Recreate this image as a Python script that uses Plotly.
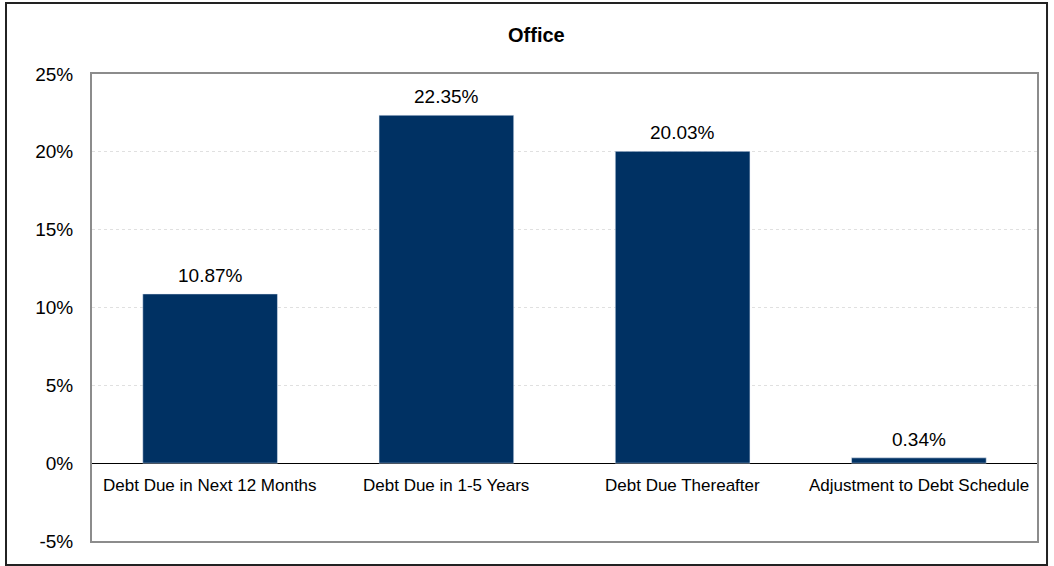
import plotly.graph_objects as go

categories = ["Debt Due in Next 12 Months", "Debt Due in 1-5 Years", "Debt Due Thereafter", "Adjustment to Debt Schedule"]
values = [10.87, 22.35, 20.03, 0.34]
tick_vals = [-5, 0, 5, 10, 15, 20, 25]
tick_text = ["-5%", "0%", "5%", "10%", "15%", "20%", "25%"]
title_text = "Office"

BAR = "#003163"
FONT = "Liberation Sans, Arial, sans-serif"

fig = go.Figure()
fig.add_trace(go.Bar(x=categories, y=values, marker_color=BAR, width=0.57, hoverinfo="skip"))

annotations = []
for c, v in zip(categories, values):
    annotations.append(dict(x=c, y=v, xref="x", yref="y", text=f"{v:.2f}%", showarrow=False,
                            yanchor="bottom", yshift=6, font=dict(family=FONT, size=19, color="#000")))
    annotations.append(dict(x=c, y=0, xref="x", yref="y", text=c, showarrow=False,
                            yanchor="middle", yshift=-22, font=dict(family=FONT, size=17, color="#000")))
annotations.append(dict(x=0.47, y=1.083, xref="paper", yref="paper", text=f"<b>{title_text}</b>",
                        showarrow=False, yanchor="middle", font=dict(family=FONT, size=20, color="#000")))

fig.update_layout(
    width=1054, height=566,
    margin=dict(l=92, r=17, t=74, b=25),
    paper_bgcolor="white", plot_bgcolor="white",
    showlegend=False,
    bargap=0.43,
    annotations=annotations,
    font=dict(family=FONT, size=19, color="#000"),
    shapes=[dict(type="rect", xref="paper", yref="paper", x0=-0.091, x1=1.0106, y0=-0.0514, y1=1.152,
                 line=dict(color="#222", width=2), fillcolor="rgba(0,0,0,0)", layer="above")],
)
fig.update_xaxes(showticklabels=False, showgrid=False, showline=True, mirror=True,
                 linecolor="#8c8c8c", linewidth=2, zeroline=False)
fig.update_yaxes(range=[-5, 25], tickvals=tick_vals, ticktext=tick_text,
                 showgrid=True, gridcolor="#e0e0e0", griddash="dot", gridwidth=1,
                 zeroline=True, zerolinecolor="#000", zerolinewidth=1,
                 showline=True, mirror=True, linecolor="#8c8c8c", linewidth=2,
                 ticks="outside", ticklen=13, tickcolor="rgba(0,0,0,0)",
                 tickfont=dict(family=FONT, size=19, color="#000"))

fig.write_html("out.html", config={"displayModeBar": False},
               post_script="document.body.style.margin='0';document.body.style.overflow='hidden';")
